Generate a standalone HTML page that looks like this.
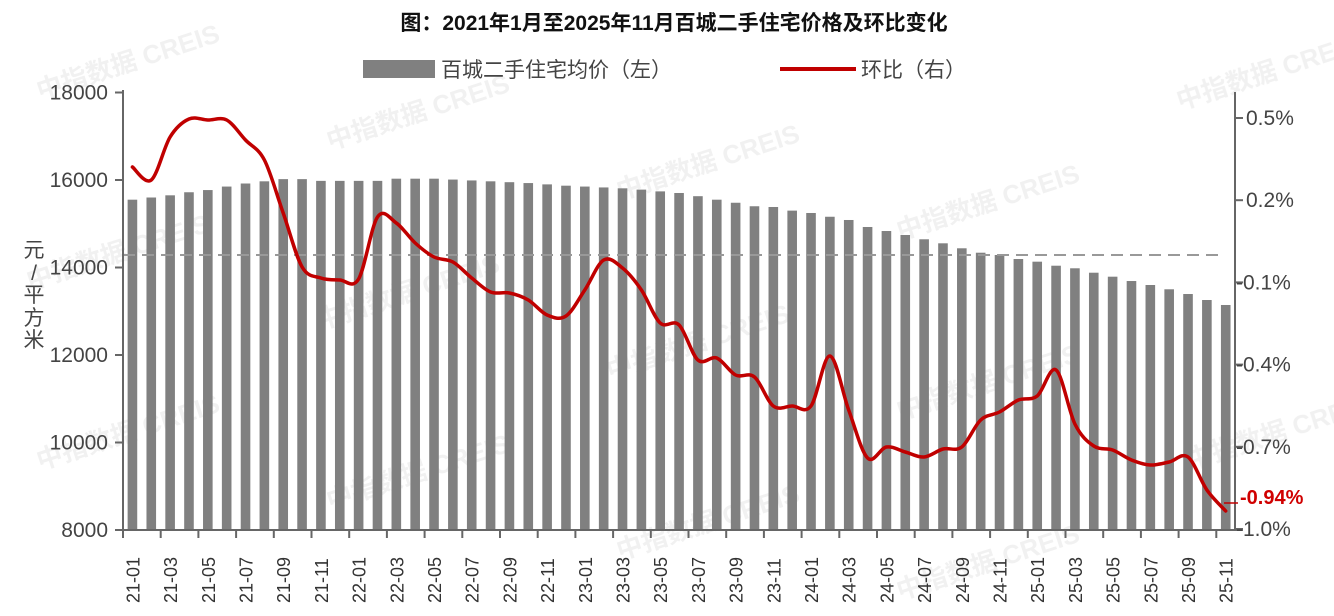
<!DOCTYPE html>
<html><head><meta charset="utf-8"><style>
html,body{margin:0;padding:0;background:#fff;width:1334px;height:616px;overflow:hidden}
svg text{font-family:"Liberation Sans","Noto Sans CJK SC",sans-serif}
</style></head><body>
<svg id="c" width="1334" height="616" xmlns="http://www.w3.org/2000/svg">
<text x="674" y="30" text-anchor="middle" font-size="21" font-weight="bold" fill="#111">图：2021年1月至2025年11月百城二手住宅价格及环比变化</text>
<rect x="363" y="60" width="72" height="18" fill="#808080"/>
<text x="441" y="77" font-size="21" fill="#444">百城二手住宅均价（左）</text>
<line x1="780" y1="69" x2="856" y2="69" stroke="#c00000" stroke-width="4"/>
<text x="861" y="77" font-size="21" fill="#444">环比（右）</text>
<g id="wm" fill="#000" opacity="0.055" font-size="26" font-weight="bold"></g>
<g id="bars" fill="#808080"></g>
<line x1="123" y1="255" x2="1220" y2="255" stroke="#999" stroke-width="2" stroke-dasharray="12,7"/>
<g id="axes" stroke="#666" stroke-width="2"></g>
<g id="lbl" font-size="21" fill="#444"></g>
<path id="ln" fill="none" stroke="#c00000" stroke-width="3.5" stroke-linejoin="round" stroke-linecap="round"/>
<line x1="1224" y1="503" x2="1238" y2="503" stroke="#c00000" stroke-width="1.5"/>
<text x="1240" y="504" font-size="20" fill="#d00000" font-weight="bold">-0.94%</text>
<g font-size="21" fill="#444" text-anchor="middle">
<text x="34" y="257">元</text><text x="34" y="280">/</text><text x="34" y="302">平</text><text x="34" y="325">方</text><text x="34" y="347">米</text>
</g>
</svg>
<script>
const NS="http://www.w3.org/2000/svg";
function el(p,t,a,txt){const e=document.createElementNS(NS,t);for(const k in a)e.setAttribute(k,a[k]);if(txt)e.textContent=txt;document.getElementById(p).appendChild(e);return e;}
const v=[15550,15600,15650,15720,15770,15850,15920,15970,16020,16020,15980,15980,
15980,15980,16030,16030,16030,16010,15990,15970,15950,15930,15900,15870,
15850,15830,15810,15780,15740,15703,15630,15550,15480,15400,15383,15300,
15246,15160,15086,14926,14834,14743,14645,14553,14439,14338,14286,14194,
14133,14041,13982,13881,13790,13691,13600,13502,13394,13257,13143];
const ly=[167,180,137,119,120,120,140,160,213,267,278,280,279,217,223,243,257,262,278,292,293,300,315,316,290,260,268,290,323,325,360,358,375,377,406,406,406,356,410,458,447,452,457,449,447,420,412,400,396,370,424,446,450,460,465,462,457,490,511];
const x0=123,w=18.85;
let P=[];
v.forEach((val,i)=>{const cx=x0+w*(i+0.5);const top=530-(val-8000)*0.04375;
el("bars","rect",{x:cx-4.8,y:top,width:9.6,height:530-top});
P.push([cx,ly[i]]);
if(i%2==0){const m=i%12+1,yr=21+Math.floor(i/12);el("lbl","text",{transform:`translate(${cx+7},${603}) rotate(-90)`,"font-size":"18","fill":"#333"},yr+"-"+(m<10?"0":"")+m);}
});
let d="M"+P[0][0]+","+P[0][1];
for(let i=0;i<P.length-1;i++){const p0=P[Math.max(i-1,0)],p1=P[i],p2=P[i+1],p3=P[Math.min(i+2,P.length-1)];
const c1x=p1[0]+(p2[0]-p0[0])/6,c1y=p1[1]+(p2[1]-p0[1])/6,c2x=p2[0]-(p3[0]-p1[0])/6,c2y=p2[1]-(p3[1]-p1[1])/6;
d+=` C${c1x.toFixed(1)},${c1y.toFixed(1)} ${c2x.toFixed(1)},${c2y.toFixed(1)} ${p2[0].toFixed(1)},${p2[1]}`;}
document.getElementById("ln").setAttribute("d",d);
el("axes","line",{x1:123,y1:90,x2:123,y2:531});
el("axes","line",{x1:1235,y1:92,x2:1235,y2:531});
el("axes","line",{x1:115,y1:530,x2:1243,y2:530});
for(let k=0;k<=29;k++){const x=x0+w*2*k;el("axes","line",{x1:x,y1:530,x2:x,y2:538});}
[18000,16000,14000,12000,10000,8000].forEach(t=>{const y=530-(t-8000)*0.04375;el("axes","line",{x1:115,y1:y,x2:123,y2:y});el("lbl","text",{x:108,y:y+7,"text-anchor":"end"},t);});
["0.5%","0.2%","-0.1%","-0.4%","-0.7%","-1.0%"].forEach((t,i)=>{const y=118+i*82.2;el("axes","line",{x1:1235,y1:y,x2:1243,y2:y});el("lbl","text",{x:t[0]=="-"?1236:1246,y:y+7},t);});
[[40,100],[330,150],[620,200],[900,240],[1180,110],[30,290],[320,330],[610,380],[900,420],[40,470],[330,510],[620,560],[900,600],[1190,470]].forEach(([x,y])=>{el("wm","text",{transform:`translate(${x},${y}) rotate(-18)`},"中指数据 CREIS");});
</script>
</body></html>
